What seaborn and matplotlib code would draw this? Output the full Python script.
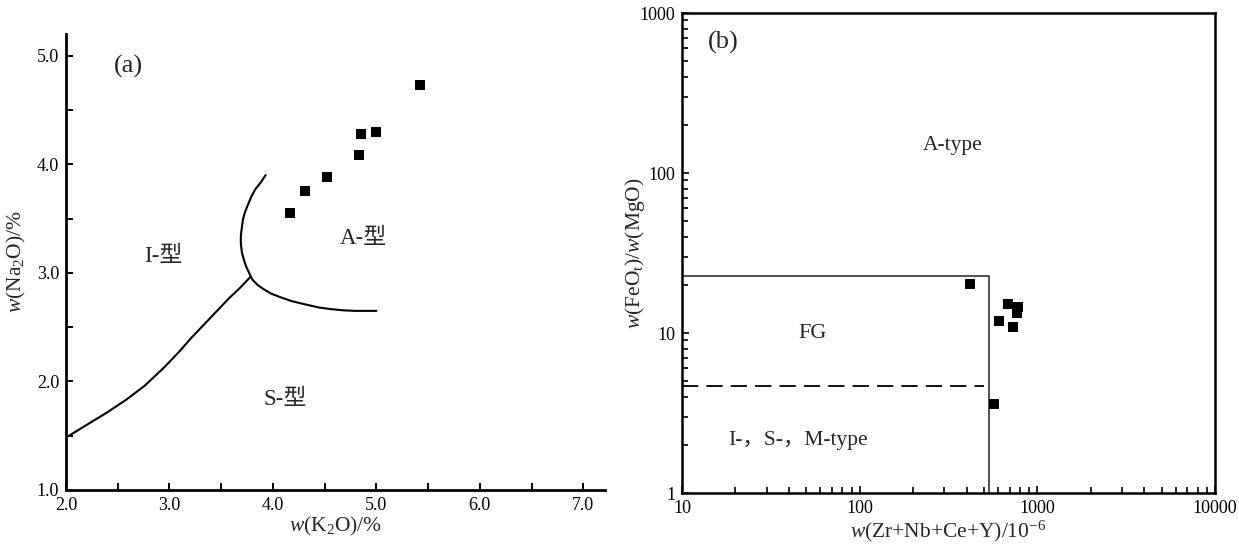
import numpy as np
import pandas as pd
import matplotlib
matplotlib.use("Agg")
import matplotlib.pyplot as plt
from matplotlib.ticker import FixedLocator, FixedFormatter, LogLocator, NullFormatter
import seaborn as sns

# ---------------- data: panel (a) ----------------
k2o = [4.17, 4.31, 4.52, 4.83, 4.85, 5.00, 5.42]
na2o = [3.55, 3.75, 3.88, 4.09, 4.28, 4.30, 4.73]

# boundary I / S (lower-left curve)
is_x = [2.03, 2.20, 2.39, 2.58, 2.76, 2.95, 3.10, 3.21, 3.35, 3.47, 3.58, 3.68, 3.78]
is_y = [1.50, 1.60, 1.71, 1.83, 1.96, 2.13, 2.28, 2.40, 2.54, 2.66, 2.77, 2.86, 2.96]
# boundary A / (I,S) curve
a_x = [3.93, 3.88, 3.83, 3.79, 3.76, 3.73, 3.71, 3.70, 3.69, 3.69, 3.70, 3.72, 3.74,
       3.77, 3.80, 3.85, 3.91, 3.98, 4.06, 4.18, 4.31, 4.45, 4.57, 4.68, 4.79, 5.00]
a_y = [3.90, 3.83, 3.77, 3.70, 3.63, 3.56, 3.49, 3.42, 3.34, 3.27, 3.19, 3.12, 3.06,
       3.00, 2.94, 2.89, 2.85, 2.81, 2.78, 2.74, 2.71, 2.68, 2.665, 2.655, 2.65, 2.65]

# ---------------- data: panel (b) ----------------
zr_sum = [419, 685, 782, 766, 609, 728, 570]
fe_mg = [20.2, 15.2, 14.5, 13.4, 11.9, 10.9, 3.58]

fg_x_limit = 536     # vertical boundary
fg_y_limit = 22.6    # upper boundary of FG field
ism_y_limit = 4.67   # dashed boundary I-,S-,M / FG

SERIF = ["Liberation Serif", "Noto Sans CJK SC", "DejaVu Sans"]

sns.set_theme(style="ticks")
plt.rcParams["font.family"] = SERIF
plt.rcParams["mathtext.fontset"] = "custom"
plt.rcParams["mathtext.rm"] = "Liberation Serif"
plt.rcParams["mathtext.it"] = "Liberation Serif:italic"
plt.rcParams["axes.unicode_minus"] = False

TICK_FS = 13
LABEL_FS = 15.5
TEXT_FS = 15.5

fig = plt.figure(figsize=(12.39, 5.45), dpi=100)
fig.patch.set_facecolor("white")

# ================= panel (a) =================
axa = fig.add_axes([66 / 1239, (545 - 490) / 545, (605 - 66) / 1239, (490 - 34) / 545])
axa.set_facecolor("white")

sns.lineplot(x=is_x, y=is_y, sort=False, estimator=None, color="black", lw=1.5, ax=axa)
sns.lineplot(x=a_x, y=a_y, sort=False, estimator=None, color="black", lw=1.5, ax=axa)
sns.scatterplot(x=k2o, y=na2o, marker="s", s=58, color="black", edgecolor="black",
                linewidth=0, ax=axa, zorder=5)

axa.set_xlim(2.0, 7.21)
axa.set_ylim(1.0, 5.2)
for sp in ["top", "right"]:
    axa.spines[sp].set_visible(False)
for sp in ["left", "bottom"]:
    axa.spines[sp].set_linewidth(2.0)
    axa.spines[sp].set_color("black")

xt = [2.0, 3.0, 4.0, 5.0, 6.0, 7.0]
yt = [1.0, 2.0, 3.0, 4.0, 5.0]
axa.xaxis.set_major_locator(FixedLocator(xt))
axa.xaxis.set_major_formatter(FixedFormatter([f"{v:.1f}" for v in xt]))
axa.xaxis.set_minor_locator(FixedLocator([2.5, 3.5, 4.5, 5.5, 6.5]))
axa.yaxis.set_major_locator(FixedLocator(yt))
axa.yaxis.set_major_formatter(FixedFormatter([f"{v:.1f}" for v in yt]))
axa.yaxis.set_minor_locator(FixedLocator([1.5, 2.5, 3.5, 4.5]))
axa.tick_params(which="both", direction="in", length=5, width=1.4, color="black",
                labelsize=TICK_FS, labelcolor="black", pad=5)

axa.set_xlabel(r"$\mathit{w}$(K$_2$O)/%", fontsize=LABEL_FS, labelpad=1)
axa.set_ylabel(r"$\mathit{w}$(Na$_2$O)/%", fontsize=LABEL_FS)
axa.yaxis.set_label_coords(-0.071, 0.5)

axa.text(2.6, 4.9, "(a)", fontsize=19, ha="center", va="center")
axa.text(2.94, 3.15, "I-型", fontsize=16.5, ha="center", va="center")
axa.text(4.87, 3.32, "A-型", fontsize=16.5, ha="center", va="center")
axa.text(4.12, 1.83, "S-型", fontsize=16.5, ha="center", va="center")

# ================= panel (b) =================
axb = fig.add_axes([682 / 1239, (545 - 493) / 545, (1215 - 682) / 1239, (493 - 13) / 545])
axb.set_facecolor("white")
axb.set_xscale("log")
axb.set_yscale("log")

box = pd.DataFrame({"x": [10, fg_x_limit, fg_x_limit], "y": [fg_y_limit, fg_y_limit, 1]})
sns.lineplot(data=box, x="x", y="y", sort=False, estimator=None, color="#333333", lw=1.2, ax=axb)
dash = pd.DataFrame({"x": [10, 501], "y": [ism_y_limit, ism_y_limit]})
sns.lineplot(data=dash, x="x", y="y", sort=False, estimator=None, color="black", lw=1.3,
             ax=axb, dashes=False, linestyle=(0, (9, 4.5)))
sns.scatterplot(x=zr_sum, y=fe_mg, marker="s", s=62, color="black", edgecolor="black",
                linewidth=0, ax=axb, zorder=5)

axb.set_xlim(10, 10000)
axb.set_ylim(1, 1000)
for sp in axb.spines.values():
    sp.set_linewidth(1.8)
    sp.set_color("black")

xbt = [10, 100, 1000, 10000]
ybt = [1, 10, 100, 1000]
axb.xaxis.set_major_locator(FixedLocator(xbt))
axb.xaxis.set_major_formatter(FixedFormatter([str(v) for v in xbt]))
axb.xaxis.set_minor_locator(LogLocator(base=10, subs=np.arange(2, 10), numticks=20))
axb.xaxis.set_minor_formatter(NullFormatter())
axb.yaxis.set_major_locator(FixedLocator(ybt))
axb.yaxis.set_major_formatter(FixedFormatter([str(v) for v in ybt]))
axb.yaxis.set_minor_locator(LogLocator(base=10, subs=np.arange(2, 10), numticks=20))
axb.yaxis.set_minor_formatter(NullFormatter())
axb.tick_params(which="both", direction="in", width=1.2, color="black",
                labelsize=TICK_FS, labelcolor="black", pad=5)
axb.tick_params(which="major", length=5)
axb.tick_params(which="minor", length=4)

axb.set_xlabel(r"$\mathit{w}$(Zr+Nb+Ce+Y)/10$^{-6}$", fontsize=LABEL_FS, labelpad=1)
axb.set_ylabel(r"$\mathit{w}$(FeO$_\mathrm{t}$)/$\mathit{w}$(MgO)", fontsize=LABEL_FS)
axb.yaxis.set_label_coords(-0.066, 0.5)

axb.text(17, 653, "(b)", fontsize=19, ha="center", va="center")
axb.text(333, 149, "A-type", fontsize=TEXT_FS, ha="center", va="center")
axb.text(54, 9.9, "FG", fontsize=16, ha="center", va="center")
axb.text(45, 2.12, "I-，S-，M-type", fontsize=TEXT_FS, ha="center", va="center")

fig.savefig("out.png", dpi=100, facecolor="white")
